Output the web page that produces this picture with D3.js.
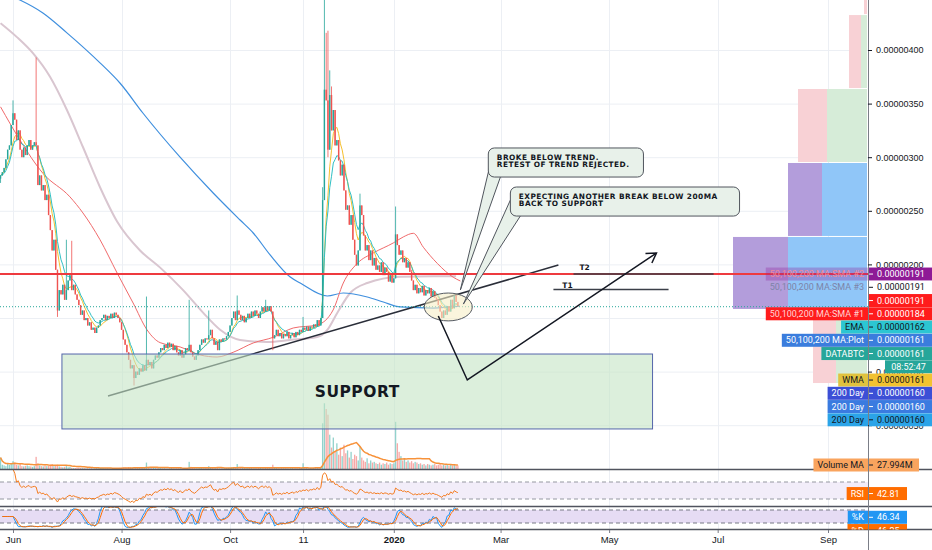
<!DOCTYPE html>
<html lang="en">
<head>
<meta charset="utf-8">
<title>DATA/BTC daily</title>
<script src="https://d3js.org/d3.v7.min.js"></script>
<style>
  body { margin: 0; background: #fff; }
  svg { display: block; font-family: Roboto, "Liberation Sans", sans-serif; }
  .axis path.domain { display: none; }
  .axis text { fill: #131722; }
  .note { font-family: "DejaVu Sans", Verdana, sans-serif; font-weight: bold; fill: #131722; }
</style>
</head>
<body>
<svg id="chart" width="932" height="550"></svg>
<script>
// ---- data (prices in satoshi, volume in millions) ----
var startUTC = Date.UTC(2019, 4, 25);   // first daily candle
var firstOpen = 280;
var closes = [
  283, 286, 290, 298, 307, 311, 330, 341, 335, 316,
  325, 307, 300, 309, 302, 311, 316, 307, 311, 314,
  311, 274, 283, 269, 274, 260, 265, 246, 232, 213,
  223, 195, 157, 176, 172, 181, 167, 176, 185, 190,
  176, 181, 172, 167, 162, 153, 157, 148, 150, 143,
  146, 139, 141, 136, 141, 143, 148, 150, 153, 148,
  152, 150, 154, 150, 155, 153, 150, 146, 139, 130,
  125, 118, 111, 103, 106, 94, 100, 97, 103, 100,
  106, 101, 111, 106, 109, 103, 111, 115, 113, 118,
  122, 120, 125, 122, 127, 123, 126, 120, 124, 118,
  115, 120, 113, 116, 122, 120, 125, 118, 114, 111,
  115, 120, 125, 130, 127, 131, 130, 134, 139, 131,
  125, 128, 120, 130, 128, 131, 130, 133, 137, 143,
  150, 156, 148, 157, 153, 148, 152, 146, 150, 154,
  150, 156, 152, 157, 154, 150, 156, 160, 156, 161,
  157, 161, 156, 131, 134, 139, 133, 136, 131, 135,
  133, 137, 131, 134, 136, 132, 137, 134, 139, 137,
  141, 139, 142, 138, 142, 141, 144, 142, 148, 143,
  150, 260, 363, 353, 307, 358, 325, 344, 311, 316,
  297, 283, 293, 269, 251, 255, 237, 246, 223, 209,
  199, 213, 255, 246, 227, 213, 218, 204, 213, 199,
  206, 195, 199, 193, 202, 190, 197, 193, 184, 190,
  183, 187, 228, 218, 209, 213, 202, 206, 197, 202,
  193, 185, 176, 181, 173, 178, 174, 180, 171, 176,
  173, 178, 170, 175, 169, 167, 162, 156, 150, 157,
  153, 161, 156, 167, 159, 171, 165, 161
];
// long wicks [candle, price]
var wickHigh = [[7,353],[20,393],[37,223],[40,222],[82,170],[106,167],[117,157],[133,171],
  [149,167],[170,151],[181,272],[182,447],[183,416],[184,418],[185,381],[186,366],[202,266],[222,254],[231,195]];
var wickLow = [[0,276],[32,151],[75,87],[153,120],[184,300]];
var volumes = [
  80, 30, 25, 20, 35, 28, 40, 55, 45, 30,
  25, 35, 20, 18, 22, 25, 20, 18, 15, 20,
  85, 40, 25, 20, 18, 25, 20, 22, 30, 35,
  20, 25, 30, 18, 15, 12, 15, 20, 12, 15,
  8, 6, 7, 9, 10, 8, 6, 7, 5, 6,
  5, 6, 4, 5, 6, 5, 7, 8, 6, 5,
  6, 5, 4, 6, 5, 6, 7, 8, 9, 10,
  12, 10, 14, 12, 10, 9, 8, 7, 8, 9,
  10, 12, 45, 15, 10, 8, 7, 6, 8, 7,
  6, 5, 6, 5, 4, 5, 6, 5, 4, 5,
  5, 6, 5, 4, 6, 7, 50, 15, 8, 6,
  5, 6, 7, 6, 5, 6, 8, 20, 10, 6,
  5, 6, 7, 5, 6, 5, 6, 7, 8, 10,
  14, 12, 10, 35, 12, 10, 8, 7, 6, 8,
  7, 6, 5, 6, 5, 6, 7, 6, 8, 12,
  8, 10, 9, 30, 12, 8, 6, 5, 6, 5,
  6, 5, 4, 5, 6, 5, 6, 5, 6, 7,
  40, 10, 8, 6, 7, 6, 8, 7, 10, 12,
  15, 320, 460, 420, 380, 240, 150, 220, 120, 180,
  100, 150, 90, 170, 110, 130, 80, 120, 70, 100,
  90, 60, 160, 80, 60, 50, 75, 40, 60, 45,
  50, 40, 35, 45, 30, 40, 35, 45, 30, 40,
  35, 40, 330, 180, 120, 90, 60, 70, 50, 60,
  45, 55, 40, 50, 45, 35, 40, 30, 35, 25,
  35, 30, 25, 30, 35, 25, 30, 35, 25, 30,
  25, 30, 22, 28, 25, 30, 22, 25
];
// long moving averages [candle, price]
var sma50 = [[0,347],[10.9,316],[23.8,285],[39,263],[46.3,248],[55.9,223],[65.5,192],[74.5,164],
  [82.3,139],[89.7,127],[100.9,123],[112.2,115.5],[121.7,113.6],[130.7,118],[142,126.7],[153.2,132],
  [164.5,140.7],[177.9,143.5],[186.9,157.5],[192.6,182.6],[200.5,201],[209.4,210.6],[220.7,220],
  [226.3,225.6],[232,229],[237.6,216],[245.4,201],[254.4,188],[258.4,184.5]];
var sma100 = [[0,425],[9.2,412],[18.2,397],[27.8,375],[37.3,344],[46.3,309.5],[55.9,272],[65.5,240],
  [78.4,213],[89.7,197],[102.6,176],[113.8,155],[123.4,139],[134.6,129.5],[149.8,127.6],[162.8,129.5],
  [177.9,132.3],[183.6,138.8],[189.2,154.7],[196.5,173.3],[206.1,182.6],[224.6,188.5],[243.2,189],[256,189]];
var sma200 = [[0,454],[10.9,446.6],[23.8,434.5],[37.3,416],[55.9,388],[67.2,369],[80.1,341],[100.9,300],
  [119.5,266.6],[134.6,241.4],[142,229.3],[151.5,208.8],[162.8,188.2],[168.4,182.6],[183.6,170.5],
  [192.6,173.3],[206.1,169.6],[215.1,164.9],[224.6,160.3],[243.2,159.3],[258,161]];
var hLevel = 191, lastPrice = 161;

// volume profile rows (price bands, volume down / up)
var vpLevels = [501, 432.6, 363.6, 294.6, 225.6, 157.5, 88.4];
var vpDown = [60, 240, 580, 680, 1100, 460];
var vpUp = [0, 120, 800, 900, 1580, 620];
var vpValueArea = [false, false, false, true, true, false];

// drawings [candle, price]
var supportBox = [[34.5, 116.4], [366.4, 46.5]];
var trendLine = [[60.4, 77.2], [313.5, 199.4]];
var t2Line = [[322, 191], [400.7, 191]], t2Label = [325.3, 194.5];
var t1Line = [[310.7, 176.5], [375.4, 176.5]], t1Label = [315.7, 178.3];
var circleAt = [251.6, 160.3], circleR = [13.5, 13];
var arrowPath = [[246, 151.9], [262.3, 92.2], [368.6, 210.6]];
var callout1 = { box: [[274.1, 308.6], [361.3, 281.5]], tail: [[274.7, 290], [258.4, 176.1], [280.9, 281.5]],
  lines: ["BROKE BELOW TREND.", "RETEST OF TREND REJECTED."] };
var callout2 = { box: [[286.5, 272.2], [415.3, 245.1]], tail: [[286.5, 260], [260.1, 163], [292.1, 245.1]],
  lines: ["EXPECTING ANOTHER BREAK BELOW 200MA", "BACK TO SUPPORT"] };

// axes
var priceTicks = [50, 100, 200, 250, 300, 350, 400];
var gridTicks = [50, 100, 150, 200, 250, 300, 350, 400];
var timeTicks = [[2019,5,1],[2019,7,1],[2019,9,1],[2019,10,11],[2020,0,1],[2020,2,1],[2020,4,1],[2020,6,1],[2020,8,1]];
var timeLabels = ["Jun", "Aug", "Oct", "11", "2020", "Mar", "May", "Jul", "Sep"];
var axisNames = ["50,100,200 MA:SMA #2", "50,100,200 MA:SMA #3", "", "50,100,200 MA:SMA #1", "EMA",
  "50,100,200 MA:Plot", "DATABTC", "", "WMA", "200 Day", "200 Day", "200 Day"];
var axisValues = [191, 191, 191, 184, 162, 161, 161, null, 161, 160, 160, 160];
var timerText = "08:52:47";
var volMaValue = 27.994, rsiValue = 42.81, kValue = 46.34, dValue = 46.25;

// ---- layout ----
var W = 932, AX = 868, DAY = 864e5;
var green = "#26a69a", red = "#ef5350";
function dayDate(i) { return new Date(startUTC + i * DAY); }
function fmtP(v) { return (v * 1e-8).toFixed(8); }

var x = d3.scaleUtc()
  .domain([new Date(Date.UTC(2019, 5, 1)), new Date(Date.UTC(2020, 8, 1))])
  .range([13, 828]);
var y = d3.scaleLinear().domain([400, 150]).range([50, 318]);
var yVol = d3.scaleLinear().domain([0, 70]).range([469, 459]);
var yRsi = d3.scaleLinear().domain([70, 30]).range([482, 499]);
var ySto = d3.scaleLinear().domain([80, 20]).range([510, 523]);
var vpW = d3.scaleLinear().domain([0, 2680]).range([0, 134]);
function px(p) { return x(dayDate(p[0])); }
function py(p) { return y(p[1]); }

var candles = closes.map(function(c, i) {
  var o = i ? closes[i - 1] : firstOpen;
  return { i: i, date: dayDate(i), o: o, c: c, h: Math.max(o, c), l: Math.min(o, c), v: volumes[i] };
});
wickHigh.forEach(function(w) { candles[w[0]].h = Math.max(candles[w[0]].h, w[1]); });
wickLow.forEach(function(w) { candles[w[0]].l = Math.min(candles[w[0]].l, w[1]); });

// indicators from the closes
function ema(v, n) { var k = 2 / (n + 1), out = [], e = v[0];
  v.forEach(function(d, i) { e = i ? d * k + e * (1 - k) : d; out.push(e); }); return out; }
function wma(v, n) { return v.map(function(d, i) { var s = 0, ws = 0;
  for (var j = 0; j < n && i - j >= 0; j++) { s += v[i - j] * (n - j); ws += n - j; } return s / ws; }); }
function sma(v, n) { return v.map(function(d, i) { var a = v.slice(Math.max(0, i - n + 1), i + 1);
  return d3.mean(a); }); }
function rsi(v, n) { var out = [null], ag = 0, al = 0;
  for (var i = 1; i < v.length; i++) { var ch = v[i] - v[i - 1], g = Math.max(ch, 0), l = Math.max(-ch, 0);
    if (i <= n) { ag += (g - ag) / i; al += (l - al) / i; } else { ag = (ag * (n - 1) + g) / n; al = (al * (n - 1) + l) / n; }
    out.push(al === 0 ? 100 : 100 - 100 / (1 + ag / al)); }
  return out; }
var emaS = ema(closes, 9), wmaS = wma(closes, 9), volMa = sma(volumes, 20);
var rsiS = rsi(closes, 14);
var rsiVals = rsiS.slice(1);
var stoch = rsiVals.map(function(r, i) { var a = rsiVals.slice(Math.max(0, i - 13), i + 1);
  var mn = d3.min(a), mx = d3.max(a); return mx === mn ? 50 : (r - mn) / (mx - mn) * 100; });
var kS = sma(stoch, 3), dS = sma(kS, 3);

var svg = d3.select("#chart");
var defs = svg.append("defs");
defs.append("clipPath").attr("id", "cMain").append("rect").attr("width", AX).attr("height", 469);
defs.append("clipPath").attr("id", "cRsi").append("rect").attr("y", 470).attr("width", AX).attr("height", 36);
defs.append("clipPath").attr("id", "cSto").append("rect").attr("y", 507).attr("width", AX).attr("height", 22);
defs.append("clipPath").attr("id", "cLab").append("rect").attr("width", W).attr("height", 529.5);

// grid
var grid = svg.append("g");
grid.selectAll("line.gh").data(gridTicks).join("line").attr("class", "gh")
  .attr("x1", 0).attr("x2", AX).attr("y1", function(d) { return y(d) + 0.5; }).attr("y2", function(d) { return y(d) + 0.5; })
  .attr("stroke", "#eceff4");
var tickDates = timeTicks.map(function(t) { return new Date(Date.UTC(t[0], t[1], t[2])); });
grid.selectAll("line.gv").data(tickDates).join("line").attr("class", "gv")
  .attr("x1", function(d) { return Math.round(x(d)) + 0.5; }).attr("x2", function(d) { return Math.round(x(d)) + 0.5; })
  .attr("y1", 0).attr("y2", 529).attr("stroke", "#eceff4");

var main = svg.append("g").attr("clip-path", "url(#cMain)");

// volume
main.selectAll("rect.vol").data(candles).join("rect").attr("class", "vol")
  .attr("x", function(d) { return x(d.date) - 0.65; }).attr("width", 1.3)
  .attr("y", function(d) { return yVol(d.v); }).attr("height", function(d) { return 469 - yVol(d.v); })
  .attr("fill", function(d) { return d.c >= d.o ? green : red; }).attr("opacity", 0.5);
main.append("path").datum(volMa).attr("fill", "none").attr("stroke", "#f7923a").attr("stroke-width", 1.5)
  .attr("d", d3.line().x(function(d, i) { return x(dayDate(i)); }).y(function(d) { return yVol(d); }));

// volume profile
var vp = main.append("g");
vpDown.forEach(function(dv, k) {
  var top = y(vpLevels[k]), bot = y(vpLevels[k + 1]) - 1;
  var wu = vpW(vpUp[k]), wd = vpW(dv);
  vp.append("rect").attr("x", AX - 1 - wu).attr("y", top).attr("width", wu).attr("height", bot - top)
    .attr("fill", vpValueArea[k] ? "#90c6f8" : "#d6ecd8");
  vp.append("rect").attr("x", AX - 1 - wu - wd).attr("y", top).attr("width", wd).attr("height", bot - top)
    .attr("fill", vpValueArea[k] ? "#b39ddb" : "#f8d1d5");
});

// long MAs
var maLine = d3.line().x(px).y(py).curve(d3.curveMonotoneX);
main.append("path").datum(sma100).attr("fill", "none").attr("stroke", "#d9c6d0").attr("stroke-width", 2).attr("d", maLine);
main.append("path").datum(sma200).attr("fill", "none").attr("stroke", "#3f8fde").attr("stroke-width", 1.2).attr("d", maLine);
main.append("path").datum(sma50).attr("fill", "none").attr("stroke", "#f06a6b").attr("stroke-width", 1).attr("d", maLine);
var shortLine = d3.line().x(function(d, i) { return x(dayDate(i)); }).y(function(d) { return y(d); });
main.append("path").datum(wmaS).attr("fill", "none").attr("stroke", "#f5c02e").attr("stroke-width", 1).attr("d", shortLine);
main.append("path").datum(emaS).attr("fill", "none").attr("stroke", "#2fc0c4").attr("stroke-width", 1).attr("d", shortLine);

// trend line (under support box)
main.append("line").attr("x1", px(trendLine[0])).attr("y1", py(trendLine[0]))
  .attr("x2", px(trendLine[1])).attr("y2", py(trendLine[1])).attr("stroke", "#2a2e39").attr("stroke-width", 1.5);

// candles
var cg = main.selectAll("g.candle").data(candles).join("g").attr("class", "candle");
cg.append("line").attr("x1", function(d) { return x(d.date); }).attr("x2", function(d) { return x(d.date); })
  .attr("y1", function(d) { return y(d.h); }).attr("y2", function(d) { return y(d.l); })
  .attr("stroke", function(d) { return d.c >= d.o ? green : red; }).attr("stroke-width", 0.8);
cg.append("rect").attr("x", function(d) { return x(d.date) - 0.7; }).attr("width", 1.4)
  .attr("y", function(d) { return y(Math.max(d.o, d.c)); })
  .attr("height", function(d) { return Math.max(0.8, y(Math.min(d.o, d.c)) - y(Math.max(d.o, d.c))); })
  .attr("fill", function(d) { return d.c >= d.o ? green : red; });

// horizontal levels
main.append("line").attr("x1", 0).attr("x2", AX).attr("y1", y(hLevel)).attr("y2", y(hLevel))
  .attr("stroke", "#ee3a3f").attr("stroke-width", 2);
main.append("line").attr("x1", 0).attr("x2", AX).attr("y1", y(lastPrice) + 0.5).attr("y2", y(lastPrice) + 0.5)
  .attr("stroke", green).attr("stroke-dasharray", "1 2");

// support box
var sb0 = supportBox[0], sb1 = supportBox[1];
main.append("rect").attr("x", px(sb0)).attr("y", py(sb0)).attr("width", px(sb1) - px(sb0)).attr("height", py(sb1) - py(sb0))
  .attr("fill", "rgb(197,228,197)").attr("fill-opacity", 0.6).attr("stroke", "#5466aa").attr("stroke-width", 1);
main.append("text").attr("class", "note").attr("x", (px(sb0) + px(sb1)) / 2).attr("y", (py(sb0) + py(sb1)) / 2 + 6)
  .attr("text-anchor", "middle").attr("font-size", 15.5).attr("letter-spacing", 0.5).text("SUPPORT");

// T1 / T2
[[t2Line, t2Label, "T2"], [t1Line, t1Label, "T1"]].forEach(function(t) {
  main.append("line").attr("x1", px(t[0][0])).attr("x2", px(t[0][1])).attr("y1", py(t[0][0])).attr("y2", py(t[0][1]))
    .attr("stroke", "#3b3f48").attr("stroke-width", 1.5);
  main.append("text").attr("class", "note").attr("x", px(t[1])).attr("y", py(t[1])).attr("font-size", 7.5).text(t[2]);
});

// circle round the retest
var cx = px(circleAt), cy = py(circleAt);
main.append("ellipse").attr("cx", cx).attr("cy", cy)
  .attr("rx", x(dayDate(circleAt[0] + circleR[0])) - cx).attr("ry", y(circleAt[1] - circleR[1]) - cy)
  .attr("fill", "#f6eec6").attr("fill-opacity", 0.6).attr("stroke", "#555a62").attr("stroke-width", 1);

// arrow path
var ap = arrowPath.map(function(p) { return [px(p), py(p)]; });
main.append("path").attr("d", d3.line()(ap)).attr("fill", "none").attr("stroke", "#131722").attr("stroke-width", 1.5);
var a1 = ap[ap.length - 2], a2 = ap[ap.length - 1];
var ang = Math.atan2(a2[1] - a1[1], a2[0] - a1[0]);
var wing = [ang + Math.PI - 0.55, ang + Math.PI + 0.55].map(function(a) { return [a2[0] + 11 * Math.cos(a), a2[1] + 11 * Math.sin(a)]; });
main.append("path").attr("d", d3.line()([wing[0], a2, wing[1]])).attr("fill", "none").attr("stroke", "#131722").attr("stroke-width", 1.5);

// callouts
[callout1, callout2].forEach(function(cb) {
  var g = main.append("g");
  g.append("path").attr("d", d3.line()(cb.tail.map(function(p) { return [px(p), py(p)]; })))
    .attr("fill", "#e8f1ea").attr("stroke", "#50555d").attr("stroke-width", 1);
  var bx = px(cb.box[0]), by = py(cb.box[0]);
  g.append("rect").attr("x", bx).attr("y", by).attr("width", px(cb.box[1]) - bx).attr("height", py(cb.box[1]) - by)
    .attr("rx", 6).attr("fill", "#e8f1ea").attr("stroke", "#50555d").attr("stroke-width", 1);
  cb.lines.forEach(function(t, k) {
    g.append("text").attr("class", "note").attr("x", bx + 8.5).attr("y", by + 11.8 + k * 7.6)
      .attr("font-size", 7.4).attr("letter-spacing", 0.45).text(t);
  });
});

// ---- RSI pane ----
var rp = svg.append("g").attr("clip-path", "url(#cRsi)");
rp.append("rect").attr("x", 0).attr("width", AX).attr("y", yRsi(70)).attr("height", yRsi(30) - yRsi(70)).attr("fill", "#f2edf9");
[70, 30].forEach(function(v) { rp.append("line").attr("x1", 0).attr("x2", AX).attr("y1", yRsi(v)).attr("y2", yRsi(v))
  .attr("stroke", "#9598a1").attr("stroke-dasharray", "4 3"); });
rp.append("path").datum(rsiS).attr("fill", "none").attr("stroke", "#f57c1f").attr("stroke-width", 1)
  .attr("d", d3.line().defined(function(d) { return d != null; }).x(function(d, i) { return x(dayDate(i)); }).y(function(d) { return yRsi(d); }));

// ---- Stoch RSI pane ----
var sp = svg.append("g").attr("clip-path", "url(#cSto)");
sp.append("rect").attr("x", 0).attr("width", AX).attr("y", ySto(80)).attr("height", ySto(20) - ySto(80)).attr("fill", "#e6dcf4");
[80, 20].forEach(function(v) { sp.append("line").attr("x1", 0).attr("x2", AX).attr("y1", ySto(v)).attr("y2", ySto(v))
  .attr("stroke", "#787b86").attr("stroke-dasharray", "4 3"); });
var stoLine = d3.line().x(function(d, i) { return x(dayDate(i + 1)); }).y(function(d) { return ySto(d); });
sp.append("path").datum(kS).attr("fill", "none").attr("stroke", "#2196f3").attr("stroke-width", 1).attr("d", stoLine);
sp.append("path").datum(dS).attr("fill", "none").attr("stroke", "#ff6d00").attr("stroke-width", 1).attr("d", stoLine);

// separators
[469.5, 506.5, 529.5].forEach(function(v) {
  svg.append("line").attr("x1", 0).attr("x2", W).attr("y1", v).attr("y2", v).attr("stroke", "#50535e").attr("stroke-width", 1.3);
});
svg.append("line").attr("x1", AX + 0.5).attr("x2", AX + 0.5).attr("y1", 0).attr("y2", 550).attr("stroke", "#7b7e87");

// price axis
var yAxis = svg.append("g").attr("class", "axis").attr("transform", "translate(" + AX + ",0)")
  .call(d3.axisRight(y).tickValues(priceTicks).tickFormat(fmtP).tickSize(4).tickPadding(4));
yAxis.selectAll("text").attr("font-size", 9);
yAxis.selectAll("line").attr("stroke", "#131722");

// time axis
var xAxis = svg.append("g").attr("class", "axis").attr("transform", "translate(0,530)")
  .call(d3.axisBottom(x).tickValues(tickDates).tickFormat(function(d, i) { return timeLabels[i]; }).tickSize(3).tickPadding(3));
xAxis.selectAll("text").attr("font-size", 9.5).attr("font-weight", function(d, i) { return timeLabels[i] === "2020" ? "bold" : null; });
xAxis.selectAll("line").attr("stroke", "#787b86");

// axis labels
var labelStyle = [
  { vbg: "#8e1a96", vfg: "#fff", nbg: "#8e1a96", nop: 0.3, nfg: "#f08a96" },
  { vbg: "#fff", vfg: "#131722", nfg: "#7d84a8" },
  { vbg: "#ff1c1c", vfg: "#fff" },
  { vbg: "#ff1c1c", vfg: "#fff", nbg: "#ff1c1c", nop: 1, nfg: "#ffd3d3" },
  { vbg: "#2cc6d2", vfg: "#131722", nbg: "#2cc6d2", nop: 1, nfg: "#131722" },
  { vbg: "#3b7ddd", vfg: "#fff", nbg: "#3b7ddd", nop: 1, nfg: "#fff" },
  { vbg: green, vfg: "#fff", nbg: green, nop: 1, nfg: "#fff" },
  { timer: true, vbg: green, vfg: "#fff" },
  { vbg: "#f2c230", vfg: "#131722", nbg: "#e0c23e", nop: 1, nfg: "#131722" },
  { vbg: "#3c4fd6", vfg: "#fff", nbg: "#3c4fd6", nop: 1, nfg: "#fff" },
  { vbg: "#3a7be0", vfg: "#fff", nbg: "#3a7be0", nop: 1, nfg: "#fff" },
  { vbg: "#2ba4e8", vfg: "#131722", nbg: "#2ba4e8", nop: 1, nfg: "#131722" }
];
var labs = svg.append("g").attr("clip-path", "url(#cLab)").attr("font-size", 9);
function axisLabel(cyL, name, value, st, vw) {
  if (st.timer) {
    labs.append("rect").attr("x", AX + 17).attr("y", cyL - 6.5).attr("width", W - AX - 17).attr("height", 13).attr("fill", st.vbg);
    labs.append("text").attr("x", AX + 17 + (W - AX - 17) / 2).attr("y", cyL).attr("dy", "0.35em").attr("text-anchor", "middle")
      .attr("fill", st.vfg).text(value);
    return;
  }
  labs.append("rect").attr("x", AX + 1).attr("y", cyL - 6.5).attr("width", vw || W - AX - 1).attr("height", 13).attr("fill", st.vbg);
  labs.append("line").attr("x1", AX + 1).attr("x2", AX + 5).attr("y1", cyL).attr("y2", cyL).attr("stroke", st.vfg);
  labs.append("text").attr("x", AX + 9).attr("y", cyL).attr("dy", "0.35em").attr("fill", st.vfg).text(value);
  if (name) {
    var r = labs.append("rect").attr("y", cyL - 6.5).attr("height", 13).attr("fill", st.nbg || "none").attr("fill-opacity", st.nop || 0);
    var t = labs.append("text").attr("x", AX - 4).attr("y", cyL).attr("dy", "0.35em").attr("text-anchor", "end")
      .attr("fill", st.nfg).text(name);
    var w = t.node().getComputedTextLength() + 8;
    r.attr("x", AX - w).attr("width", w);
  }
}
var rowY = y(axisValues[0]);
axisNames.forEach(function(n, k) {
  var v = axisValues[k];
  axisLabel(rowY + k * 13.25, n, v == null ? timerText : fmtP(v), labelStyle[k]);
});
axisLabel(yVol(volMaValue), "Volume MA", volMaValue.toFixed(3) + "M", { vbg: "#f9a45e", vfg: "#131722", nbg: "#f9a45e", nop: 1, nfg: "#131722" }, 50);
axisLabel(yRsi(rsiValue), "RSI", rsiValue.toFixed(2), { vbg: "#ff6d00", vfg: "#fff", nbg: "#ff6d00", nop: 1, nfg: "#fff" }, 38);
axisLabel(ySto(kValue), "%K", kValue.toFixed(2), { vbg: "#2196f3", vfg: "#fff", nbg: "#2196f3", nop: 1, nfg: "#fff" }, 38);
axisLabel(ySto(kValue) + 13.25, "%D", dValue.toFixed(2), { vbg: "#ff6d00", vfg: "#fff", nbg: "#ff6d00", nop: 1, nfg: "#fff" }, 38);
</script>
</body>
</html>
